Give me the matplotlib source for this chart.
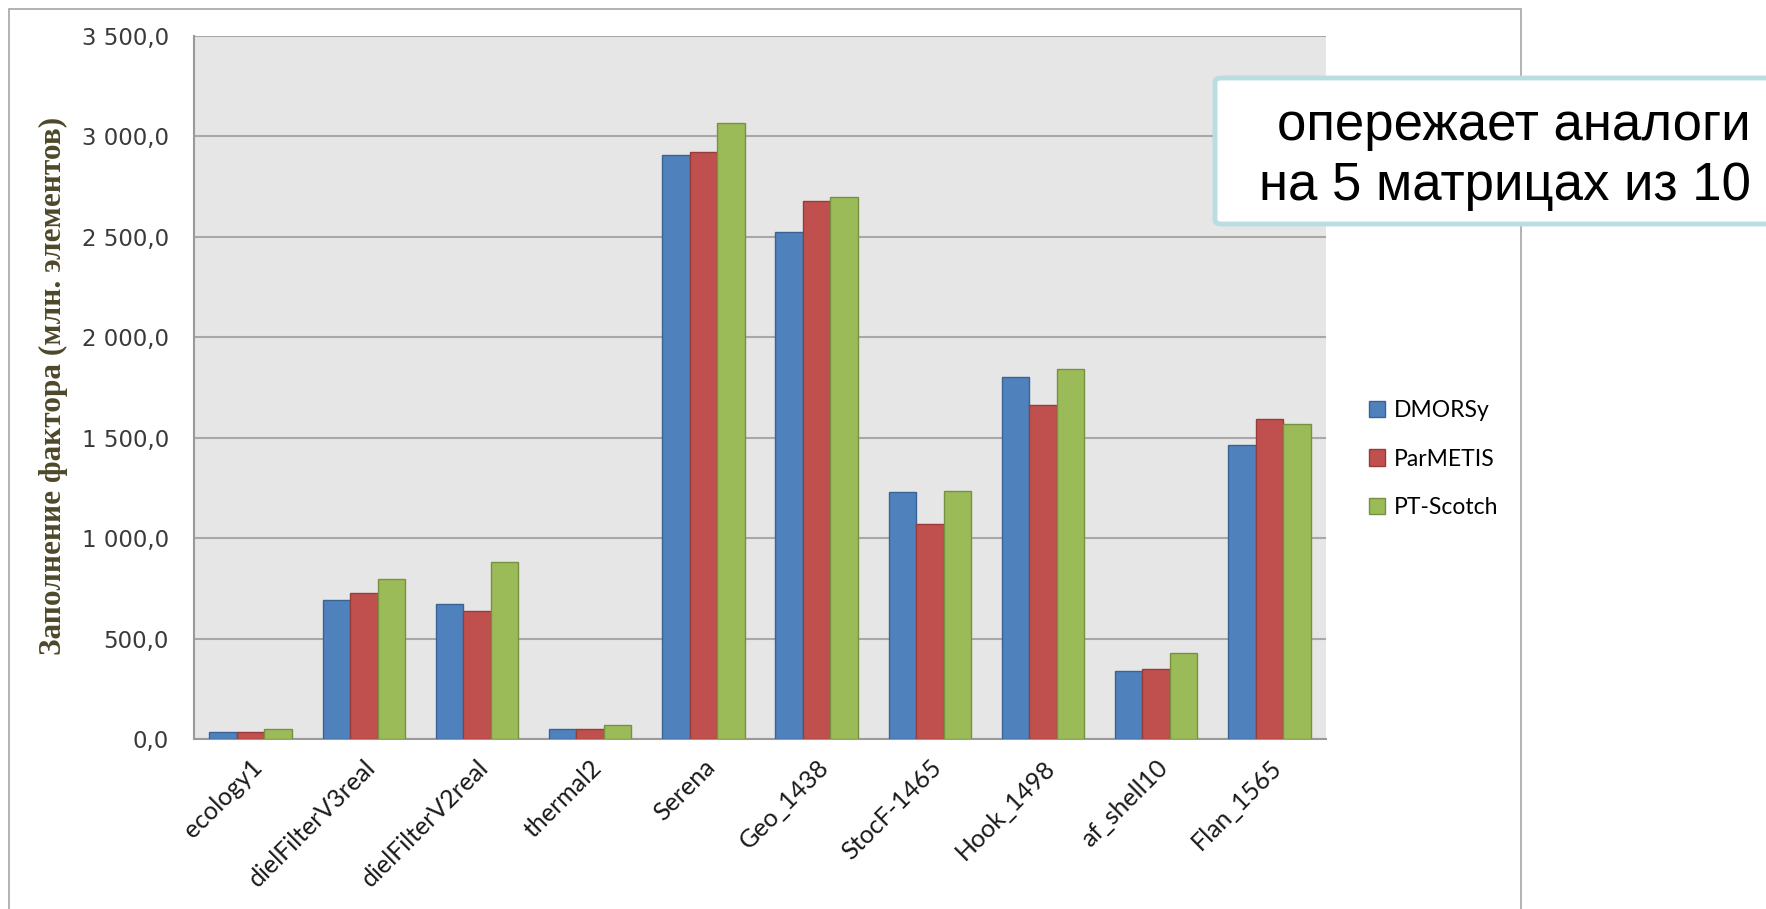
import numpy as np
import matplotlib.pyplot as plt
from matplotlib.patches import Rectangle, FancyBboxPatch

# Данные
matrices = ['ecology1', 'dielFilterV3real', 'dielFilterV2real', 'thermal2', 'Serena',
            'Geo_1438', 'StocF-1465', 'Hook_1498', 'af_shell10', 'Flan_1565']
dmorsy = [35, 692, 674, 50, 2909, 2525, 1229, 1804, 337, 1465]
parmetis = [35, 725, 636, 50, 2921, 2678, 1070, 1663, 349, 1593]
ptscotch = [50, 795, 880, 68, 3066, 2696, 1236, 1841, 426, 1566]
series_names = ['DMORSy', 'ParMETIS', 'PT-Scotch']
y_ticks = [0, 500, 1000, 1500, 2000, 2500, 3000, 3500]

W, H = 1766, 909
fig = plt.figure(figsize=(W / 100, H / 100), dpi=100)
fig.patch.set_facecolor('white')

# рамка диаграммы
fig.patches.append(Rectangle((9 / W, -0.05), (1521 - 9) / W, 1.05 - 9 / H,
                             transform=fig.transFigure, fill=False,
                             edgecolor='#a6a6a6', lw=1.2))

ax = fig.add_axes([194 / W, 1 - 739 / H, (1326 - 194) / W, (739 - 36) / H])
ax.set_facecolor('#e6e6e6')

x = np.arange(len(matrices))
w = 0.243
fills = ['#4f81bd', '#c0504d', '#9bbb59']
edges = ['#3a6395', '#963c3a', '#76913f']
for i, vals in enumerate([dmorsy, parmetis, ptscotch]):
    ax.bar(x + (i - 1) * w, vals, width=w, color=fills[i], edgecolor=edges[i],
           linewidth=1.0, label=series_names[i], zorder=3)

ax.set_xlim(-0.5, len(matrices) - 0.5)
ax.set_ylim(0, 3500)
ax.set_yticks(y_ticks)
ax.set_yticklabels([f'{v:,.1f}'.replace(',', ' ').replace('.', ',') for v in y_ticks])
ax.yaxis.grid(True, color='#a8a8a8', lw=1.5, zorder=0)
ax.set_axisbelow(True)
for s in ['top', 'right']:
    ax.spines[s].set_visible(False)
for s in ['left', 'bottom']:
    ax.spines[s].set_color('#9a9a9a')
    ax.spines[s].set_linewidth(1.5)
ax.tick_params(axis='y', length=0, pad=18, labelsize=16.5, labelcolor='#3a3a3a')
ax.tick_params(axis='x', length=0)
for lab in ax.get_yticklabels():
    lab.set_fontfamily('DejaVu Sans')

ax.set_xticks(x)
ax.set_xticklabels(matrices, rotation=45, ha='right', va='top', rotation_mode='anchor',
                   fontsize=18, family='Lato', color='#1a1a1a')
ax.tick_params(axis='x', pad=12)

fig.text(53 / W, 1 - 386 / H, 'Заполнение фактора (млн. элементов)', rotation=90,
         ha='center', va='center', family='Liberation Serif', fontweight='bold',
         fontsize=22.5, color='#4d4829')

fig.legend(loc='center left', bbox_to_anchor=(1348 / W, 1 - 459 / H), frameon=False,
           prop={'family': 'Lato', 'size': 16.5}, handlelength=0.7, handleheight=0.7,
           handletextpad=0.4, labelspacing=1.2)

# выноска с текстом
fig.patches.append(FancyBboxPatch((1215 / W, 1 - 224 / H), 600 / W, 146 / H,
                                  boxstyle='round,pad=0,rounding_size=0.004',
                                  transform=fig.transFigure, facecolor='white',
                                  edgecolor='#b9dde1', lw=3.5, zorder=5))
fig.text(1751 / W, 1 - 156 / H, 'опережает аналоги\nна 5 матрицах из 10',
         ha='right', va='center', family='Liberation Sans', fontsize=38,
         linespacing=1.27, color='black', zorder=6)

fig.savefig('out.png', dpi=100)
